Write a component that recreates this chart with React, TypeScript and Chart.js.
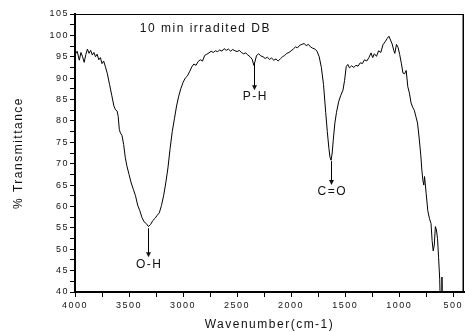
import React, { useEffect, useRef } from "react";
import { Chart, registerables } from "chart.js";

Chart.register(...registerables);

const wavenumbers = [
  4000, 3980, 3960, 3945, 3930, 3915, 3900, 3885, 3870, 3855, 3840, 3825, 3810, 3795, 3780, 3765, 3750, 3735, 3720,
  3700, 3680, 3660, 3640, 3625, 3610, 3600, 3590, 3580, 3565, 3550, 3535, 3520, 3500, 3480, 3460, 3440, 3420, 3400,
  3380, 3360, 3340, 3320, 3300, 3280, 3260, 3240, 3220, 3200, 3180, 3160, 3140, 3120, 3100, 3080, 3060, 3040, 3020,
  3000, 2980, 2960, 2940, 2920, 2900, 2880, 2860, 2840, 2820, 2800, 2780, 2760, 2740, 2720, 2700, 2680, 2660, 2640,
  2620, 2600, 2580, 2560, 2540, 2520, 2500, 2480, 2460, 2440, 2420, 2400, 2380, 2360, 2345, 2335, 2320, 2300, 2280,
  2260, 2240, 2220, 2200, 2180, 2160, 2140, 2120, 2100, 2080, 2060, 2040, 2020, 2000, 1980, 1960, 1940, 1920, 1900,
  1880, 1860, 1840, 1820, 1800, 1780, 1760, 1740, 1720, 1700, 1680, 1665, 1650, 1640, 1630, 1620, 1610, 1595, 1580,
  1560, 1540, 1520, 1505, 1490, 1475, 1460, 1440, 1420, 1400, 1380, 1360, 1340, 1320, 1300, 1280, 1260, 1245, 1230,
  1210, 1190, 1170, 1150, 1130, 1110, 1095, 1080, 1065, 1050, 1040, 1025, 1010, 995, 980, 965, 950, 935, 920, 905,
  890, 875, 860, 845, 830, 815, 800, 790, 780, 772, 765, 750, 735, 720, 705, 695, 685, 675, 665, 655, 645, 635, 625,
  618, 610, 604, 600,
];

const transmittance = [
  95.5, 96.3, 94.2, 96.0, 95.0, 93.7, 95.5, 96.8, 95.8, 96.5, 95.4, 96.0, 95.0, 95.6, 94.3, 94.8, 93.4, 94.0, 92.8,
  91.0, 88.5, 86.0, 83.5, 82.6, 82.3, 81.0, 78.0, 77.2, 76.6, 74.5, 71.5, 69.5, 67.5, 65.5, 64.0, 62.5, 60.3, 59.0,
  57.4, 56.4, 56.0, 55.3, 55.8, 56.7, 57.2, 57.9, 58.5, 60.2, 62.5, 65.5, 69.0, 73.5, 77.5, 80.5, 83.5, 85.8, 87.6,
  89.0, 90.0, 90.5, 91.5, 92.6, 93.3, 93.0, 93.9, 94.3, 94.0, 95.3, 95.6, 95.9, 96.3, 96.0, 96.4, 96.2, 96.6, 96.3,
  96.9, 96.5, 96.8, 96.3, 96.7, 96.4, 96.2, 96.5, 96.0, 95.7, 95.9, 95.4, 95.0, 94.4, 93.0, 93.8, 95.3, 95.7, 95.2,
  95.0, 94.6, 94.9, 94.4, 94.7, 94.2, 94.5, 94.0, 94.5, 95.0, 95.3, 95.8, 96.0, 96.4, 96.8, 97.3, 97.1, 97.7, 97.9,
  98.1, 97.6, 97.9, 97.3, 97.0, 96.8, 96.3, 95.0, 92.5, 88.5, 82.0, 77.5, 73.5, 71.5, 70.8, 72.5, 75.5, 79.5, 82.0,
  84.5, 86.0, 87.2, 89.5, 92.7, 93.2, 92.4, 92.9, 92.5, 93.0, 92.8, 93.6, 93.4, 94.3, 94.0, 94.8, 95.9, 94.8, 95.7,
  95.1, 96.4, 96.0, 97.8, 98.5, 99.3, 99.8, 98.9, 98.0, 96.5, 95.8, 97.9, 97.2, 95.5, 93.5, 91.2, 91.0, 91.8, 88.0, 86.5,
  84.2, 83.2, 82.5, 81.0, 79.5, 76.0, 72.0, 68.5, 66.0, 65.0, 67.0, 63.0, 59.0, 57.2, 56.0, 52.0, 49.6, 51.0, 55.3, 54.5,
  52.5, 48.0, 43.0, 36.0, 34.0, 43.5, 34.0,
];

const xTickValues = [500, 750, 1000, 1250, 1500, 1750, 2000, 2250, 2500, 2750, 3000, 3250, 3500, 3750, 4000];

const annotationWavenumbers = [3324, 2342, 1634];
const annotationStart = [54.9, 93.6, 70.6];
const annotationEnd = [48.1, 87.2, 65.0];
const annotationLabels = ["O-H", "P-H", "C=O"];

const chartLabel = "10 min irradited DB";
const chartLabelWavenumber = 3400;
const chartLabelValue = 101.5;

const FONT = "'Liberation Sans', Arial, sans-serif";

const framePlugin = {
  id: "frame",
  beforeDraw(chart: any) {
    chart.ctx.letterSpacing = "1.5px";
  },
  afterDraw(chart: any) {
    const { ctx, chartArea, scales } = chart;
    ctx.save();
    ctx.letterSpacing = "1.5px";
    ctx.strokeStyle = "#000";
    ctx.lineWidth = 1;
    ctx.beginPath();
    ctx.moveTo(chartArea.left, chartArea.top + 0.5);
    ctx.lineTo(chartArea.right, chartArea.top + 0.5);
    ctx.stroke();
    ctx.lineWidth = 1.5;
    ctx.beginPath();
    ctx.moveTo(chartArea.right - 0.75, chartArea.top);
    ctx.lineTo(chartArea.right - 0.75, chartArea.bottom);
    ctx.stroke();

    const x = scales.x;
    const y = scales.y;
    ctx.fillStyle = "#111";
    ctx.strokeStyle = "#000";
    ctx.font = `12px ${FONT}`;
    ctx.textAlign = "left";
    ctx.textBaseline = "middle";
    ctx.fillText(chartLabel, x.getPixelForValue(chartLabelWavenumber), y.getPixelForValue(chartLabelValue));

    for (let i = 0; i < annotationWavenumbers.length; i++) {
      const px = Math.round(x.getPixelForValue(annotationWavenumbers[i])) + 0.5;
      const y1 = y.getPixelForValue(annotationStart[i]);
      const y2 = y.getPixelForValue(annotationEnd[i]);
      ctx.lineWidth = 1;
      ctx.beginPath();
      ctx.moveTo(px, y1);
      ctx.lineTo(px, y2 - 4);
      ctx.stroke();
      ctx.beginPath();
      ctx.moveTo(px - 2.5, y2 - 5);
      ctx.lineTo(px + 2.5, y2 - 5);
      ctx.lineTo(px, y2);
      ctx.closePath();
      ctx.fill();
      ctx.textAlign = "center";
      ctx.fillText(annotationLabels[i], px + 0.75, y2 + 7);
    }
    ctx.restore();
  },
};

export default function App() {
  const ref = useRef<HTMLCanvasElement | null>(null);
  useEffect(() => {
    if (!ref.current) return;
    const data = wavenumbers.map((w, i) => ({ x: w, y: transmittance[i] }));
    const chart = new Chart(ref.current, {
      type: "line",
      data: {
        datasets: [
          {
            data,
            borderColor: "#000",
            borderWidth: 1,
            pointRadius: 0,
            tension: 0,
            fill: false,
          },
        ],
      },
      options: {
        animation: false,
        responsive: false,
        devicePixelRatio: 1,
        layout: { padding: { left: 0, top: 14, right: 1, bottom: 0 } },
        plugins: { legend: { display: false }, tooltip: { enabled: false } },
        scales: {
          x: {
            type: "linear",
            reverse: true,
            min: 400,
            max: 4000,
            afterBuildTicks: (scale: any) => {
              scale.ticks = xTickValues.map((v) => ({ value: v }));
            },
            afterFit: (scale: any) => {
              scale.height = 40;
            },
            grid: { drawOnChartArea: false, tickLength: 5, color: "#000", tickWidth: 1 },
            border: { color: "#000", width: 2 },
            ticks: {
              autoSkip: false,
              maxRotation: 0,
              padding: 3,
              color: "#111",
              font: { family: FONT, size: 9 },
              callback: (v: any) => (Number(v) % 500 === 0 ? String(v) : ""),
            },
            title: {
              display: true,
              text: "Wavenumber(cm-1)",
              color: "#111",
              font: { family: FONT, size: 12 },
              padding: { top: 0, bottom: 0 },
            },
          },
          y: {
            min: 40,
            max: 105,
            afterBuildTicks: (scale: any) => {
              const t = [];
              for (let v = 40; v <= 105; v += 2.5) t.push({ value: v });
              scale.ticks = t;
            },
            afterFit: (scale: any) => {
              scale.width = 75;
            },
            grid: { drawOnChartArea: false, tickLength: 5, color: "#000", tickWidth: 1 },
            border: { color: "#000", width: 2 },
            ticks: {
              autoSkip: false,
              padding: 1,
              color: "#111",
              font: { family: FONT, size: 9 },
              callback: (v: any) => (Number(v) % 5 === 0 ? String(v) : ""),
            },
            title: {
              display: true,
              text: "% Transmittance",
              color: "#111",
              font: { family: FONT, size: 12 },
              padding: { top: 11, bottom: 0 },
            },
          },
        },
      },
      plugins: [framePlugin],
    });
    return () => chart.destroy();
  }, []);
  return (
    <div style={{ position: "absolute", left: 0, top: 0, width: 465, height: 332 }}>
      <canvas ref={ref} width={465} height={332} style={{ width: 465, height: 332 }} />
    </div>
  );
}
